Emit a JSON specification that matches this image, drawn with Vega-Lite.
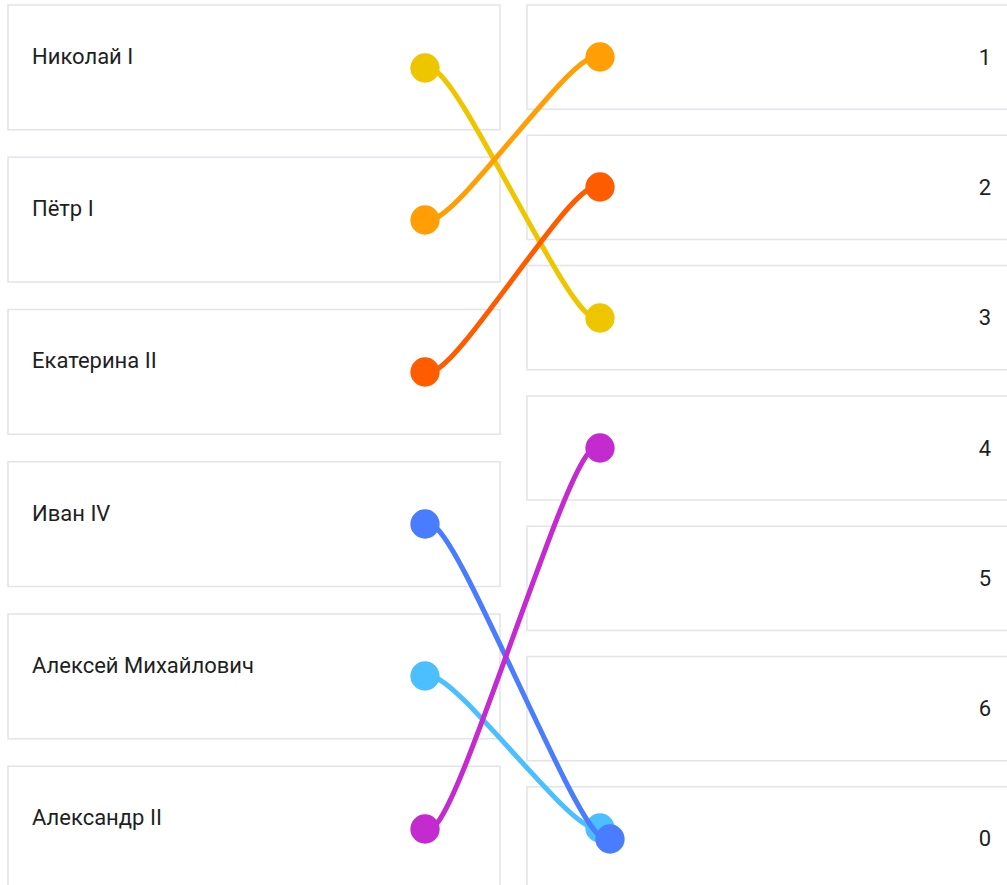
{
  "$schema": "https://vega.github.io/schema/vega-lite/v6.json",
  "width": 1027,
  "height": 896,
  "padding": 0,
  "autosize": {"type": "none"},
  "background": "white",
  "config": {"view": {"stroke": null}},
  "datasets": {
    "left": [
      {"side": "left", "slot": 0, "name": "Николай I"},
      {"side": "left", "slot": 1, "name": "Пётр I"},
      {"side": "left", "slot": 2, "name": "Екатерина II"},
      {"side": "left", "slot": 3, "name": "Иван IV"},
      {"side": "left", "slot": 4, "name": "Алексей Михайлович"},
      {"side": "left", "slot": 5, "name": "Александр II"}
    ],
    "right": [
      {"side": "right", "slot": 0, "num": "1"},
      {"side": "right", "slot": 1, "num": "2"},
      {"side": "right", "slot": 2, "num": "3"},
      {"side": "right", "slot": 3, "num": "4"},
      {"side": "right", "slot": 4, "num": "5"},
      {"side": "right", "slot": 5, "num": "6"},
      {"side": "right", "slot": 6, "num": "0"}
    ],
    "links": [
      {"name": "Николай I", "step": 0, "x": 425, "y": 68},
      {"name": "Николай I", "step": 1, "x": 447, "y": 68},
      {"name": "Николай I", "step": 2, "x": 578, "y": 318},
      {"name": "Николай I", "step": 3, "x": 600, "y": 318},
      {"name": "Пётр I", "step": 0, "x": 425, "y": 220},
      {"name": "Пётр I", "step": 1, "x": 447, "y": 220},
      {"name": "Пётр I", "step": 2, "x": 578, "y": 57},
      {"name": "Пётр I", "step": 3, "x": 600, "y": 57},
      {"name": "Екатерина II", "step": 0, "x": 425, "y": 372},
      {"name": "Екатерина II", "step": 1, "x": 447, "y": 372},
      {"name": "Екатерина II", "step": 2, "x": 578, "y": 187},
      {"name": "Екатерина II", "step": 3, "x": 600, "y": 187},
      {"name": "Алексей Михайлович", "step": 0, "x": 425, "y": 676},
      {"name": "Алексей Михайлович", "step": 1, "x": 447, "y": 676},
      {"name": "Алексей Михайлович", "step": 2, "x": 578, "y": 828},
      {"name": "Алексей Михайлович", "step": 3, "x": 600, "y": 828},
      {"name": "Иван IV", "step": 0, "x": 425, "y": 524},
      {"name": "Иван IV", "step": 1, "x": 447, "y": 524},
      {"name": "Иван IV", "step": 2, "x": 588, "y": 839},
      {"name": "Иван IV", "step": 3, "x": 610, "y": 839},
      {"name": "Александр II", "step": 0, "x": 425, "y": 829},
      {"name": "Александр II", "step": 1, "x": 447, "y": 829},
      {"name": "Александр II", "step": 2, "x": 578, "y": 448},
      {"name": "Александр II", "step": 3, "x": 600, "y": 448}
    ]
  },
  "resolve": {"scale": {"x": "independent", "y": "independent"}},
  "layer": [
    {
      "data": {"name": "left"},
      "mark": {"type": "rect", "fill": "white", "stroke": "#e3e3e8", "strokeWidth": 1.5},
      "encoding": {
        "x": {"field": "side", "type": "nominal", "axis": null, "scale": {"type": "band", "domain": ["left", "right"], "paddingInner": 0.052, "paddingOuter": 0.0154}},
        "y": {"field": "slot", "type": "ordinal", "axis": null, "scale": {"type": "band", "domain": [0, 1, 2, 3, 4, 5], "paddingInner": 0.18, "paddingOuter": 0.033}}
      }
    },
    {
      "data": {"name": "left"},
      "mark": {"type": "text", "align": "left", "baseline": "alphabetic", "dx": 24, "dy": -3.5, "font": "Roboto", "fontSize": 22, "color": "#1f1f1f"},
      "encoding": {
        "x": {"field": "side", "type": "nominal", "axis": null, "bandPosition": 0, "scale": {"type": "band", "domain": ["left", "right"], "paddingInner": 0.052, "paddingOuter": 0.0154}},
        "y": {"field": "slot", "type": "ordinal", "axis": null, "bandPosition": 0.5, "scale": {"type": "band", "domain": [0, 1, 2, 3, 4, 5], "paddingInner": 0.18, "paddingOuter": 0.033}},
        "text": {"field": "name"}
      }
    },
    {
      "data": {"name": "right"},
      "mark": {"type": "rect", "fill": "white", "stroke": "#e3e3e8", "strokeWidth": 1.5},
      "encoding": {
        "x": {"field": "side", "type": "nominal", "axis": null, "scale": {"type": "band", "domain": ["left", "right"], "paddingInner": 0.052, "paddingOuter": 0.0154}},
        "y": {"field": "slot", "type": "ordinal", "axis": null, "scale": {"type": "band", "domain": [0, 1, 2, 3, 4, 5, 6], "paddingInner": 0.2, "paddingOuter": 0.038}}
      }
    },
    {
      "data": {"name": "right"},
      "mark": {"type": "text", "align": "right", "baseline": "alphabetic", "dx": -28, "dy": 7.5, "font": "Roboto", "fontSize": 22, "color": "#1f1f1f"},
      "encoding": {
        "x": {"field": "side", "type": "nominal", "axis": null, "bandPosition": 1, "scale": {"type": "band", "domain": ["left", "right"], "paddingInner": 0.052, "paddingOuter": 0.0154}},
        "y": {"field": "slot", "type": "ordinal", "axis": null, "bandPosition": 0.5, "scale": {"type": "band", "domain": [0, 1, 2, 3, 4, 5, 6], "paddingInner": 0.2, "paddingOuter": 0.038}},
        "text": {"field": "num"}
      }
    },
    {
      "data": {"name": "links"},
      "transform": [{"filter": {"field": "name", "oneOf": ["Николай I", "Пётр I", "Екатерина II", "Алексей Михайлович"]}}],
      "mark": {"type": "line", "interpolate": "basis", "strokeWidth": 5, "strokeCap": "round"},
      "encoding": {
        "x": {"field": "x", "type": "quantitative", "axis": null, "scale": {"domain": [0, 1027], "nice": false, "zero": false}},
        "y": {"field": "y", "type": "quantitative", "axis": null, "scale": {"domain": [0, 896], "nice": false, "zero": false, "reverse": true}},
        "order": {"field": "step", "type": "quantitative"},
        "color": {"field": "name", "type": "nominal", "legend": null, "scale": {"domain": ["Николай I", "Пётр I", "Екатерина II", "Иван IV", "Алексей Михайлович", "Александр II"], "range": ["#EDC600", "#FF9F05", "#FF5C00", "#4A7CFF", "#4CBFFF", "#C42BCF"]}}
      }
    },
    {
      "data": {"name": "links"},
      "transform": [
        {"filter": {"field": "name", "oneOf": ["Николай I", "Пётр I", "Екатерина II", "Алексей Михайлович"]}},
        {"filter": "datum.step == 0 || datum.step == 3"}
      ],
      "mark": {"type": "point", "filled": true, "opacity": 1, "size": 860, "shape": "circle"},
      "encoding": {
        "x": {"field": "x", "type": "quantitative", "axis": null, "scale": {"domain": [0, 1027], "nice": false, "zero": false}},
        "y": {"field": "y", "type": "quantitative", "axis": null, "scale": {"domain": [0, 896], "nice": false, "zero": false, "reverse": true}},
        "color": {"field": "name", "type": "nominal", "legend": null}
      }
    },
    {
      "data": {"name": "links"},
      "transform": [{"filter": {"field": "name", "oneOf": ["Иван IV", "Александр II"]}}],
      "mark": {"type": "line", "interpolate": "basis", "strokeWidth": 5, "strokeCap": "round"},
      "encoding": {
        "x": {"field": "x", "type": "quantitative", "axis": null, "scale": {"domain": [0, 1027], "nice": false, "zero": false}},
        "y": {"field": "y", "type": "quantitative", "axis": null, "scale": {"domain": [0, 896], "nice": false, "zero": false, "reverse": true}},
        "order": {"field": "step", "type": "quantitative"},
        "color": {"field": "name", "type": "nominal", "legend": null}
      }
    },
    {
      "data": {"name": "links"},
      "transform": [
        {"filter": {"field": "name", "oneOf": ["Иван IV", "Александр II"]}},
        {"filter": "datum.step == 0 || datum.step == 3"}
      ],
      "mark": {"type": "point", "filled": true, "opacity": 1, "size": 860, "shape": "circle"},
      "encoding": {
        "x": {"field": "x", "type": "quantitative", "axis": null, "scale": {"domain": [0, 1027], "nice": false, "zero": false}},
        "y": {"field": "y", "type": "quantitative", "axis": null, "scale": {"domain": [0, 896], "nice": false, "zero": false, "reverse": true}},
        "color": {"field": "name", "type": "nominal", "legend": null}
      }
    }
  ]
}
